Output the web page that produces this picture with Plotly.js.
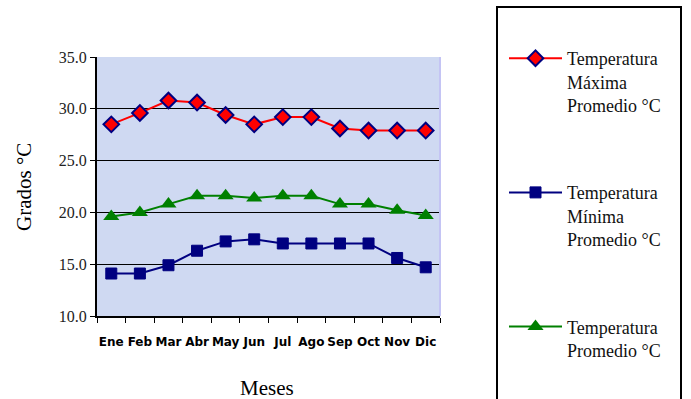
<!DOCTYPE html>
<html>
<head>
<meta charset="utf-8">
<script src="https://cdn.plot.ly/plotly-3.0.1.min.js"></script>
<style>html,body{margin:0;padding:0;background:#fff;}#chart{width:691px;height:399px;}</style>
</head>
<body>
<div id="chart"></div>
<script>
const months = ["Ene", "Feb", "Mar", "Abr", "May", "Jun", "Jul", "Ago", "Sep", "Oct", "Nov", "Dic"];
const tempMax = [28.5, 29.6, 30.8, 30.6, 29.4, 28.5, 29.2, 29.2, 28.1, 27.9, 27.9, 27.9];
const tempMin = [14.1, 14.1, 14.9, 16.3, 17.2, 17.4, 17.0, 17.0, 17.0, 17.0, 15.6, 14.7];
const tempAvg = [19.6, 20.0, 20.8, 21.6, 21.6, 21.4, 21.6, 21.6, 20.8, 20.8, 20.2, 19.7];
const yTicks = [10, 15, 20, 25, 30, 35];
const yTickText = ["10.0", "15.0", "20.0", "25.0", "30.0", "35.0"];
const seriesNames = [
  "Temperatura<br>Máxima<br>Promedio °C",
  "Temperatura<br>Mínima<br>Promedio °C",
  "Temperatura<br>Promedio °C"
];

const serif = "Liberation Serif";

const traces = [
  {x: months, y: tempMax, name: seriesNames[0], type: "scatter", mode: "lines+markers",
   legendgroup: "a",
   line: {color: "#ff0000", width: 2},
   marker: {symbol: "diamond", size: 12, color: "#ff0000", line: {color: "#000080", width: 2}}},
  {x: months, y: tempMin, name: seriesNames[1], type: "scatter", mode: "lines+markers",
   legendgroup: "b",
   line: {color: "#000080", width: 2},
   marker: {symbol: "square", size: 11, color: "#000080", line: {color: "#000080", width: 1}}},
  {x: months, y: tempAvg, name: seriesNames[2], type: "scatter", mode: "lines+markers",
   legendgroup: "c",
   line: {color: "#008000", width: 2},
   marker: {symbol: "triangle-up", size: 14, color: "#008000", line: {width: 0}}}
];

const layout = {
  width: 691, height: 399,
  margin: {l: 97, r: 251, t: 57, b: 83, pad: 0},
  paper_bgcolor: "#ffffff",
  plot_bgcolor: "#cfd9f2",
  font: {family: serif, color: "#000000", size: 15},
  showlegend: true,
  legend: {
    x: (504 - 97) / 343, xanchor: "left", y: (316 - 40) / 259, yanchor: "top",
    bgcolor: "rgba(0,0,0,0)", borderwidth: 0,
    font: {family: serif, size: 18, color: "#111"},
    valign: "top", traceorder: "grouped", tracegroupgap: 61,
    itemwidth: 53, maxheight: 390
  },
  xaxis: {
    type: "category", range: [-0.5, 11.5], fixedrange: true,
    showline: true, linecolor: "#000", linewidth: 2, mirror: false,
    ticks: "outside", ticklen: 5, tickcolor: "#000", tickwidth: 1, tickson: "boundaries",
    showgrid: false, zeroline: false, tickangle: 0, ticklabelstandoff: 14,
    tickfont: {family: "DejaVu Sans", size: 12, color: "#000", weight: "bold"}
  },
  yaxis: {
    range: [10, 35], fixedrange: true,
    tickvals: yTicks, ticktext: yTickText,
    showline: true, linecolor: "#000", linewidth: 2,
    ticks: "outside", ticklen: 5, tickcolor: "#000", tickwidth: 1,
    showgrid: true, gridcolor: "#000", gridwidth: 1, zeroline: false,
    tickfont: {family: serif, size: 16, color: "#222"}
  },
  annotations: [
    {text: "Meses", xref: "paper", yref: "paper", x: (267 - 97) / 343, y: (316 - 388) / 259,
     xanchor: "center", yanchor: "middle", showarrow: false,
     font: {family: serif, size: 21, color: "#000"}},
    {text: "Grados °C", xref: "paper", yref: "paper", x: (24 - 97) / 343, y: (316 - 187) / 259,
     xanchor: "center", yanchor: "middle", showarrow: false, textangle: -90,
     font: {family: serif, size: 21, color: "#000"}}
  ],
  shapes: [
    {type: "line", xref: "paper", yref: "paper", x0: 1, x1: 1, y0: 0, y1: 1,
     line: {color: "#c4c4f4", width: 2}, layer: "above"},
    {type: "rect", xref: "paper", yref: "paper",
     x0: (497 - 97) / 343, x1: (681 - 97) / 343,
     y0: (316 - 410) / 259, y1: (316 - 7) / 259,
     line: {color: "#000", width: 2}, fillcolor: "rgba(0,0,0,0)", layer: "above"}
  ]
};

Plotly.newPlot("chart", traces, layout, {displayModeBar: false, staticPlot: true});
</script>
</body>
</html>
